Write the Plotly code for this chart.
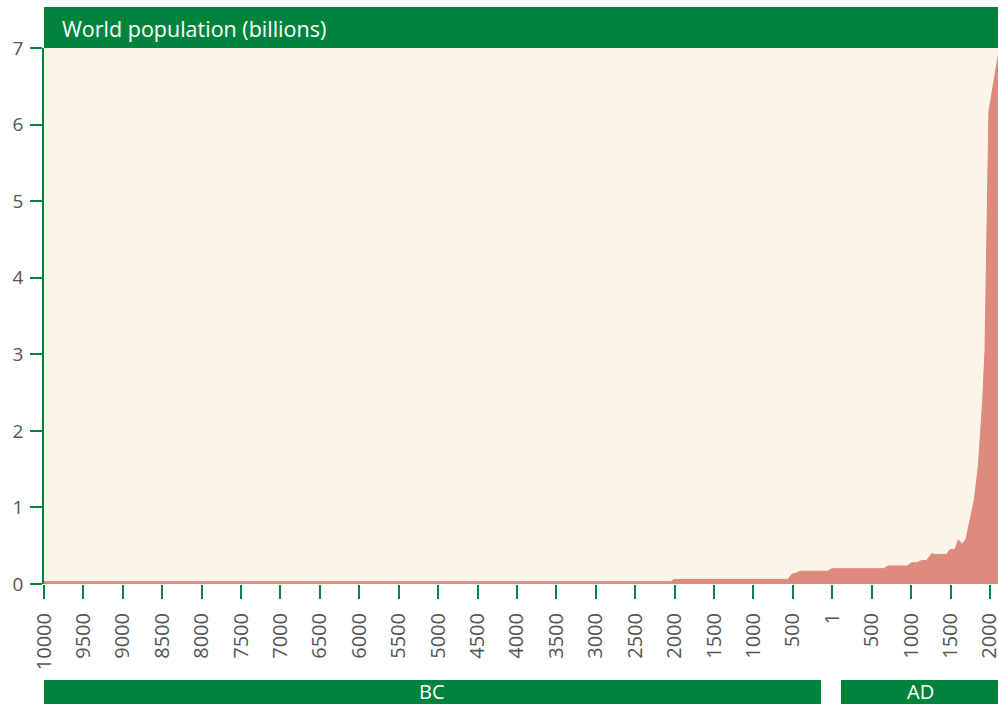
import plotly.graph_objects as go

# Data (x in chart-year units)
years = [-10000, -2046, -2008, -562, -511, -473, -410, -55, -4, 655, 706, 947, 1007,
         1070, 1134, 1197, 1261, 1303, 1451, 1493, 1556, 1598, 1649, 1696, 1746,
         1801, 1852, 1908, 1937, 1958, 1972, 1987, 2102]
population = [0.03, 0.03, 0.06, 0.06, 0.13, 0.135, 0.167, 0.167, 0.2, 0.2, 0.235, 0.235,
              0.277, 0.277, 0.307, 0.307, 0.395, 0.386, 0.386, 0.451, 0.451, 0.578,
              0.52, 0.589, 0.83, 1.09, 1.53, 2.4, 3.05, 4.2, 5.3, 6.17, 6.89]

x_tickvals = [-10000, -9500, -9000, -8500, -8000, -7500, -7000, -6500, -6000, -5500,
              -5000, -4500, -4000, -3500, -3000, -2500, -2000, -1500, -1000, -500,
              0, 500, 1000, 1500, 2000]
x_ticktext = ["10000", "9500", "9000", "8500", "8000", "7500", "7000", "6500", "6000",
              "5500", "5000", "4500", "4000", "3500", "3000", "2500", "2000", "1500",
              "1000", "500", "1", "500", "1000", "1500", "2000"]
y_tickvals = [0, 1, 2, 3, 4, 5, 6, 7]

title_text = "World population (billions)"
era_labels = ["BC", "AD"]

GREEN = "#00843D"
FILL = "#DE8A7C"
BG = "#FBF4E7"
GREY = "#555555"
FONT = "Open Sans"

W, H = 998, 704
ML, MR, MT, MB = 44, 0, 48, 120
PH = H - MT - MB
PW = W - ML - MR

def py(pix):  # pixel y -> paper y
    return (H - MB - pix) / PH

def px(pix):  # pixel x -> paper x
    return (pix - ML) / PW

fig = go.Figure()
fig.add_trace(go.Scatter(
    x=years, y=population, mode="lines", fill="tozeroy",
    line=dict(color=FILL, width=1), fillcolor=FILL, hoverinfo="skip",
))

shapes = [
    dict(type="rect", xref="paper", yref="paper", x0=0, x1=1, y0=py(48), y1=py(7),
         fillcolor=GREEN, line=dict(width=0), layer="above"),
    dict(type="rect", xref="paper", yref="paper", x0=0, x1=px(821), y0=py(704), y1=py(680),
         fillcolor=GREEN, line=dict(width=0)),
    dict(type="rect", xref="paper", yref="paper", x0=px(841), x1=1, y0=py(704), y1=py(680),
         fillcolor=GREEN, line=dict(width=0)),
]
annotations = [
    dict(text=title_text, xref="paper", yref="paper", x=px(60), y=py(28),
         xanchor="left", yanchor="middle", showarrow=False,
         font=dict(family=FONT, size=21.5, color="white")),
    dict(text=era_labels[0], xref="paper", yref="paper", x=px(432), y=py(691),
         xanchor="center", yanchor="middle", showarrow=False,
         font=dict(family=FONT, size=20, color="white")),
    dict(text=era_labels[1], xref="paper", yref="paper", x=px(920), y=py(691),
         xanchor="center", yanchor="middle", showarrow=False,
         font=dict(family=FONT, size=20, color="white")),
]

fig.update_layout(
    width=W, height=H, autosize=False,
    margin=dict(l=ML, r=MR, t=MT, b=MB, pad=0, autoexpand=False),
    paper_bgcolor="white", plot_bgcolor=BG,
    showlegend=False,
    shapes=shapes, annotations=annotations,
    xaxis=dict(range=[-10000, 2102], tickmode="array", tickvals=x_tickvals,
               ticktext=x_ticktext, tickangle=-90, ticks="outside", ticklen=14,
               tickcolor=GREEN, tickwidth=1.5, showgrid=False, zeroline=False,
               showline=False, ticklabelstandoff=6, ticklabeloverflow="allow",
               automargin=False,
               tickfont=dict(family=FONT, size=20, color=GREY), fixedrange=True),
    yaxis=dict(range=[0, 7], tickmode="array", tickvals=y_tickvals,
               ticks="outside", ticklen=12, tickcolor=GREEN, tickwidth=1.5,
               showgrid=False, zeroline=False, showline=True, linecolor=GREEN,
               linewidth=1.5, ticklabelstandoff=3, automargin=False,
               tickfont=dict(family=FONT, size=19, color=GREY), fixedrange=True),
)

fig.write_html(
    "out.html",
    config=dict(displayModeBar=False),
    post_script="document.body.style.margin='0';document.body.style.overflow='hidden';",
)
